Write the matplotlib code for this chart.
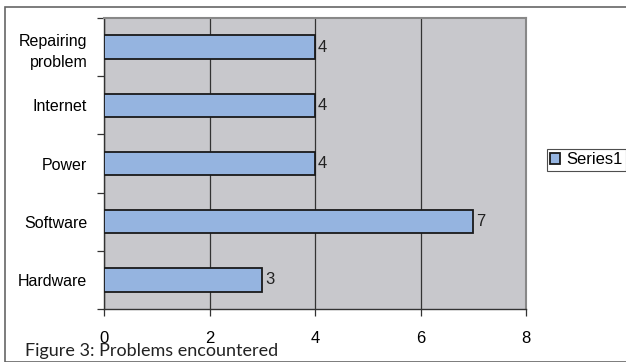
import numpy as np
import matplotlib.pyplot as plt
from matplotlib.patches import Rectangle

categories = ['Hardware', 'Software', 'Power', 'Internet', 'Repairing\nproblem']
values = [3, 7, 4, 4, 4]
series_name = 'Series1'

plt.rcParams['font.family'] = ['Liberation Sans', 'DejaVu Sans']

fig = plt.figure(figsize=(6.26, 3.62), dpi=100)
W, H = 626, 362
ax = fig.add_axes([104 / W, 1 - 309 / H, (526 - 104) / W, (309 - 18) / H])

y = np.arange(len(categories))
bars = ax.barh(y, values, height=0.4, color='#95b4e0', edgecolor='#1a1a1a',
               linewidth=1.3, label=series_name, zorder=3)

ax.set_facecolor('#c8c8cc')
ax.set_xlim(0, 8)
ax.set_ylim(-0.5, len(categories) - 0.5)
ax.set_xticks([0, 2, 4, 6, 8])
ax.xaxis.grid(True, color='#333333', linewidth=0.9, zorder=1)

ax.set_yticks(y)
ax.set_yticklabels(categories, fontsize=11.5, linespacing=1.5)
ax.tick_params(axis='y', length=0, pad=12)
ax.set_yticks(np.arange(-0.5, len(categories), 1), minor=True)
ax.tick_params(axis='y', which='minor', length=5, width=0.9, color='#333333')
ax.tick_params(axis='x', length=5, width=0.9, color='#333333', labelsize=12, pad=11)

for s in ['top', 'right']:
    ax.spines[s].set_color('#888888')
    ax.spines[s].set_linewidth(1.5)
for s in ['left', 'bottom']:
    ax.spines[s].set_color('#333333')
    ax.spines[s].set_linewidth(1.0)

for b, v in zip(bars, values):
    ax.text(v + 0.05, b.get_y() + b.get_height() / 2, str(v), va='center',
            ha='left', fontsize=12, color='#222222')

leg = ax.legend(loc='center left', bbox_to_anchor=(547 / W, 1 - 160 / H),
                bbox_transform=fig.transFigure, fontsize=12, frameon=True,
                fancybox=False, handlelength=0.6, handleheight=0.6,
                handletextpad=0.35, borderpad=0.2, borderaxespad=0)
leg.get_frame().set_edgecolor('#222222')
leg.get_frame().set_linewidth(0.8)

fig.patches.append(Rectangle((5 / W, 0.5 / H), (640 - 5) / W, 1 - 7.5 / H,
                             transform=fig.transFigure, fill=False,
                             edgecolor='#666666', linewidth=1.2))

fig.text(25 / W, 1 - 351 / H, 'Figure 3: Problems encountered', fontsize=13,
         family=['Lato', 'DejaVu Sans'], va='center', ha='left', color='#222222')

fig.savefig('out.png', dpi=100)
